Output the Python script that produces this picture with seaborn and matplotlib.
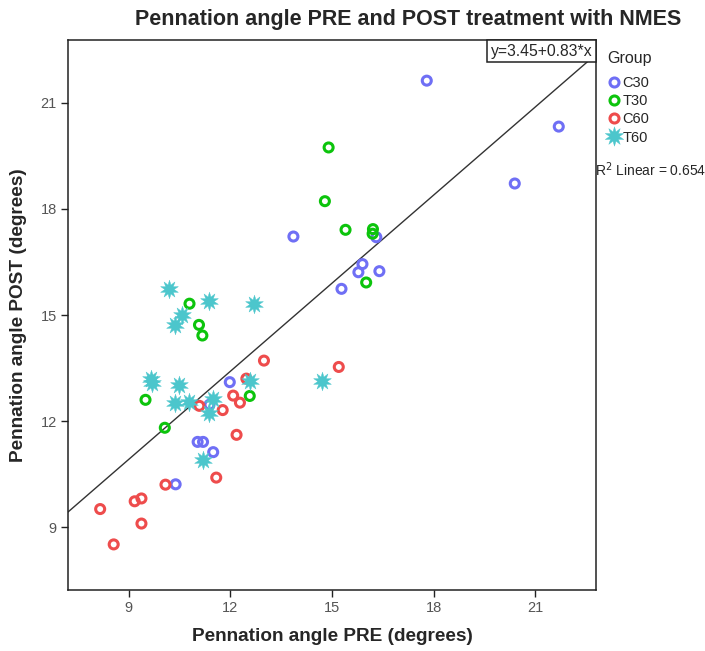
import numpy as np
import pandas as pd
import matplotlib
matplotlib.use("Agg")
import matplotlib.pyplot as plt
from matplotlib.lines import Line2D
import seaborn as sns

# ---- data ----
c30_pre = [17.80, 21.70, 20.40, 13.86, 16.31, 15.90, 15.78, 16.40, 15.28, 11.98, 11.38, 11.03, 11.19, 11.49, 10.38]
c30_post = [21.63, 20.33, 18.72, 17.22, 17.20, 16.44, 16.21, 16.24, 15.74, 13.10, 12.46, 11.41, 11.41, 11.12, 10.21]

t30_pre = [14.90, 14.79, 15.40, 16.21, 16.20, 16.01, 10.79, 11.07, 11.17, 9.49, 12.57, 10.06]
t30_post = [19.74, 18.22, 17.41, 17.43, 17.30, 15.92, 15.32, 14.72, 14.42, 12.60, 12.71, 11.81]

c60_pre = [12.99, 12.47, 15.20, 12.08, 12.28, 11.77, 11.08, 12.18, 11.58, 10.08, 9.17, 9.37, 8.15, 9.37, 8.55]
c60_post = [13.71, 13.20, 13.53, 12.72, 12.52, 12.31, 12.43, 11.61, 10.40, 10.20, 9.73, 9.81, 9.51, 9.10, 8.51]

t60_pre = [10.17, 11.38, 12.69, 10.57, 10.37, 9.66, 9.68, 10.47, 12.59, 14.69, 10.37, 10.77, 11.48, 11.38, 11.19]
t60_post = [15.73, 15.41, 15.32, 15.01, 14.72, 13.18, 13.08, 13.01, 13.12, 13.14, 12.52, 12.55, 12.62, 12.23, 10.90]

groups = ["C30", "T30", "C60", "T60"]
fit_intercept = 3.45
fit_slope = 0.83
r2_text = "0.654"
xticks = [9, 12, 15, 18, 21]
yticks = [9, 12, 15, 18, 21]

df = pd.concat([
    pd.DataFrame({"pre": c30_pre, "post": c30_post, "Group": "C30"}),
    pd.DataFrame({"pre": t30_pre, "post": t30_post, "Group": "T30"}),
    pd.DataFrame({"pre": c60_pre, "post": c60_post, "Group": "C60"}),
    pd.DataFrame({"pre": t60_pre, "post": t60_post, "Group": "T60"}),
], ignore_index=True)

# ---- style ----
sns.set_style("white")
plt.rcParams["font.family"] = ["Liberation Sans", "DejaVu Sans"]

colors = {"C30": "#6f6ff5", "T30": "#0cc40c", "C60": "#ee4c4c", "T60": "#4cc6cc"}
star = (10, 1, 0)

fig = plt.figure(figsize=(7.05, 6.51), dpi=100)
ax = fig.add_axes([68 / 705, 1 - 590 / 651, (596 - 68) / 705, (590 - 40) / 651])

xlim = (7.2, 22.8)
ylim = (7.22, 22.78)

# regression line (drawn under points)
xs = np.array(xlim)
sns.lineplot(x=xs, y=fit_intercept + fit_slope * xs, ax=ax, color="#333333", lw=1.0, zorder=1)

for g in groups:
    sub = df[df["Group"] == g]
    if g == "T60":
        sns.scatterplot(data=sub, x="pre", y="post", ax=ax, marker=star, s=180,
                        color=colors[g], edgecolor=colors[g], linewidth=0.3, zorder=3, legend=False)
    else:
        sns.scatterplot(data=sub, x="pre", y="post", ax=ax, marker="o", s=42,
                        facecolor="none", edgecolor=colors[g], linewidth=2.2, zorder=3, legend=False)
        ax.collections[-1].set_facecolor("none")
        ax.collections[-1].set_edgecolor(colors[g])

ax.set_xlim(*xlim)
ax.set_ylim(*ylim)
ax.set_xticks(xticks)
ax.set_yticks(yticks)
ax.tick_params(axis="both", direction="out", length=5, width=1, color="#222222",
               labelsize=10.5, labelcolor="#555555", left=True, bottom=True, pad=3)
for sp in ax.spines.values():
    sp.set_color("#222222")
    sp.set_linewidth(1.1)

ax.set_xlabel("Pennation angle PRE (degrees)", fontsize=13.7, fontweight="bold", labelpad=9)
ax.set_ylabel("Pennation angle POST (degrees)", fontsize=13.7, fontweight="bold", labelpad=10)

fig.text(408 / 705, 1 - 19 / 651, "Pennation angle PRE and POST treatment with NMES",
         ha="center", va="center", fontsize=15.5, fontweight="bold")

# equation box
ax.text(0.993, 0.993, "y=3.45+0.83*x", transform=ax.transAxes, ha="right", va="top",
        fontsize=11.3, zorder=5,
        bbox=dict(boxstyle="square,pad=0.22", facecolor="white", edgecolor="#222222", lw=1.1))

# legend
fig.text(607 / 705, 1 - 58 / 651, "Group", ha="left", va="center", fontsize=11.5)
handles = []
for g in groups:
    if g == "T60":
        h = Line2D([], [], ls="none", marker=star, markersize=14, color=colors[g],
                   markeredgecolor=colors[g], markeredgewidth=0.3)
    else:
        h = Line2D([], [], ls="none", marker="o", markersize=6.5, markerfacecolor="none",
                   markeredgecolor=colors[g], markeredgewidth=2.2)
    handles.append(h)
leg = fig.legend(handles, groups, loc="upper left",
                 bbox_to_anchor=(600 / 705, 1 - 69 / 651), frameon=False,
                 fontsize=10.5, handlelength=0.9, handletextpad=0.15,
                 labelspacing=0.28, borderpad=0.0)

fig.text(595 / 705, 1 - 170 / 651, "R$^2$ Linear = " + r2_text, ha="left", va="center", fontsize=10)

fig.savefig("out.png", dpi=100, facecolor="white")
